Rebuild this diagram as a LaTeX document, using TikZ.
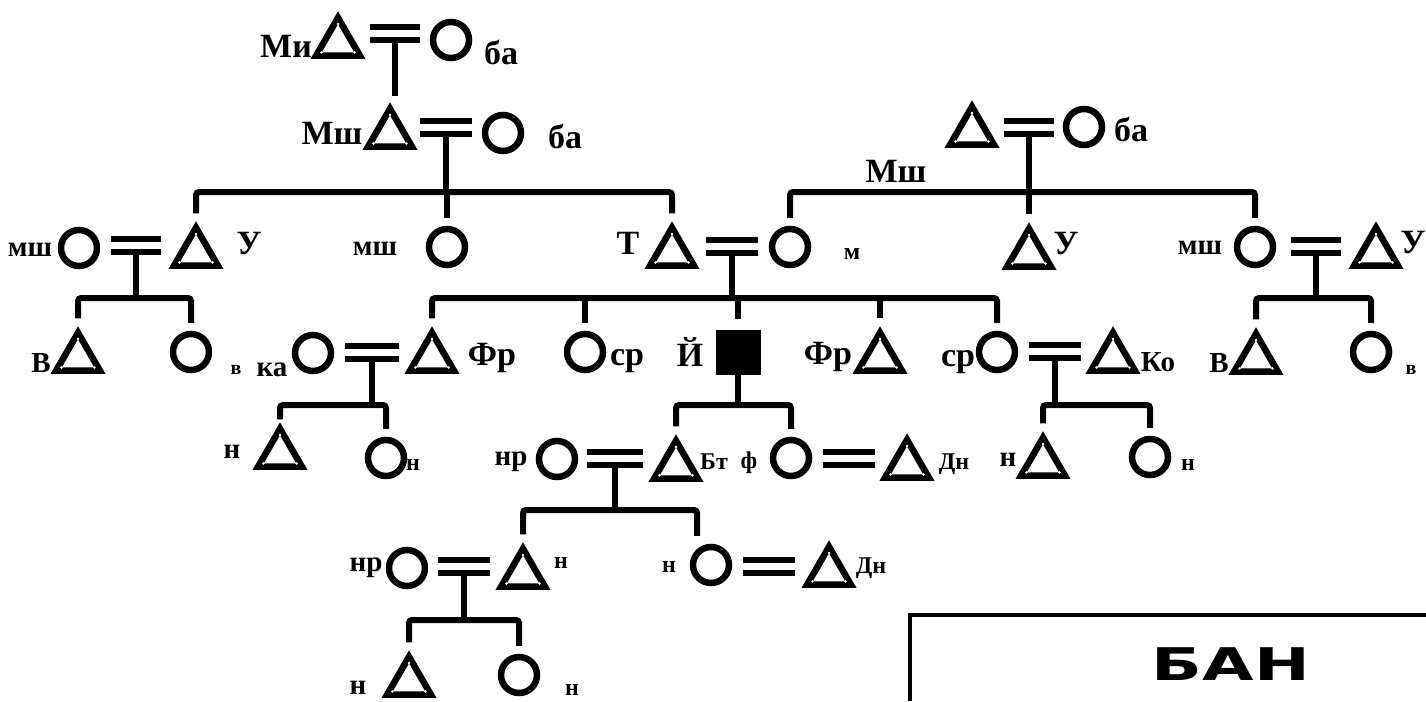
\documentclass[tikz,border=0pt]{standalone}
\usepackage{fontspec}
\newfontfamily\labfont{Liberation Serif}
\newfontfamily\banfont{DejaVu Sans}
\usetikzlibrary{shapes.geometric,calc}
\tikzset{
  ln/.style={line width=6pt},
  rc/.style={rounded corners=3pt},
  male/.style={regular polygon, regular polygon sides=3, draw, line width=6.5pt, minimum size=50.5pt, inner sep=0pt, yshift=-7pt},
  female/.style={circle, draw, line width=6.5pt, minimum size=36pt, inner sep=0pt},
  aff/.style={rectangle, fill=black, minimum size=45pt, inner sep=0pt},
  lab/.style={font=\labfont\bfseries\fontsize{34}{34}\selectfont, inner sep=0pt},
  mlab/.style={font=\labfont\bfseries\fontsize{29}{29}\selectfont, inner sep=0pt},
  slab/.style={font=\labfont\bfseries\fontsize{24}{24}\selectfont, inner sep=0pt},
  xlab/.style={font=\labfont\bfseries\fontsize{20}{20}\selectfont, inner sep=0pt},
  banst/.style={font=\banfont\bfseries\fontsize{45}{45}\selectfont, inner sep=0pt},
  speck/.style={fill=white},
}
\newcommand\mrg[3]{%
  \coordinate (#1) at (#2);
  \draw[ln] ([shift={(-#3,-6.5)}]#1) -- ([shift={(#3,-6.5)}]#1);
  \draw[ln] ([shift={(-#3,6.5)}]#1) -- ([shift={(#3,6.5)}]#1);
}
\begin{document}
\begin{tikzpicture}[x=1pt,y=-1pt]
\useasboundingbox (0,0) rectangle (1426,701);
% ---------- row 0
\node[male] (A0) at (338,36) {};
\node[female] (B0) at (451,40) {};
\mrg{m0}{395,34}{25}
\node[lab] (tA0) at (286,46) {Ми};
\node[lab] (tB0) at (501,52) {ба};
% ---------- row 1
\node[male] (A1) at (390,127) {};
\node[female] (B1) at (503,133) {};
\mrg{m1}{446,127}{26}
\node[lab] (tA1) at (332,133) {Мш};
\node[lab] (tB1) at (565,136) {ба};
\node[male] (A2) at (972,125) {};
\node[female] (B2) at (1084,127) {};
\mrg{m2}{1029,127}{25}
\node[lab] (tB2) at (1131,129) {ба};
\node[lab] (tMs) at (896,171) {Мш};
% ---------- row 2
\node[female] (W1) at (79,248) {};
\node[male] (C1) at (196,246) {};
\mrg{m3}{136,245}{25}
\node[female] (C2) at (447,247) {};
\node[male] (C3) at (672,246) {};
\node[female] (D1) at (790,247) {};
\mrg{m4}{732,246}{26}
\node[male] (D2) at (1029,247) {};
\node[female] (D3) at (1255,247) {};
\node[male] (H1) at (1376,246) {};
\mrg{m5}{1316,246}{25}
\node[mlab] (t21) at (30,250) {мш};
\node[lab] (t22) at (249,244) {У};
\node[mlab] (t23) at (375,249) {мш};
\node[lab] (t24) at (628,243) {Т};
\node[slab] (t25) at (852,254) {м};
\node[lab] (t26) at (1066,244) {У};
\node[mlab] (t27) at (1200,248) {мш};
\node[lab] (t28) at (1413,243) {У};
% ---------- row 3
\node[male] (E1) at (78,351) {};
\node[female] (E2) at (191,352) {};
\node[female] (W2) at (313,353) {};
\node[male] (F1) at (432,351) {};
\mrg{m6}{372,352}{27}
\node[female] (F2) at (585,352) {};
\node[aff] (F3) at (738,352) {};
\node[male] (F4) at (880,351) {};
\node[female] (F5) at (997,352) {};
\node[male] (H2) at (1113,351) {};
\mrg{m7}{1055,351}{26}
\node[male] (G1) at (1256,352) {};
\node[female] (G2) at (1371,352) {};
\node[mlab] (t31) at (41,363) {В};
\node[xlab] (t32) at (236,370) {в};
\node[mlab] (t33) at (272,370) {ка};
\node[lab] (t34) at (492,358) {Фр};
\node[lab] (t35) at (627,361) {ср};
\node[lab] (t36) at (690,352) {Й};
\node[lab] (t37) at (828,357) {Фр};
\node[lab] (t38) at (958,362) {ср};
\node[mlab] (t39) at (1158,362) {Ко};
\node[mlab] (t3a) at (1219,363) {В};
\node[xlab] (t3b) at (1411,370) {в};
% ---------- row 4
\node[male] (I1) at (280,447) {};
\node[female] (I2) at (386,458) {};
\node[female] (W3) at (557,459) {};
\node[male] (J1) at (676,459) {};
\mrg{m8}{615,458}{28}
\node[female] (J2) at (791,458) {};
\node[male] (H3) at (907,458) {};
\mrg{m9}{849,458}{26}
\node[male] (K1) at (1043,456) {};
\node[female] (K2) at (1150,457) {};
\node[mlab] (t41) at (232,452) {н};
\node[slab] (t42) at (413,465) {н};
\node[mlab] (t43) at (511,462) {нр};
\node[slab] (t44) at (714,462) {Бт};
\node[slab] (t45) at (749,463) {ф};
\node[slab] (t46) at (954,464) {Дн};
\node[mlab] (t47) at (1008,460) {н};
\node[slab] (t48) at (1188,465) {н};
% ---------- row 5
\node[female] (W4) at (407,568) {};
\node[male] (L1) at (523,567) {};
\mrg{m10}{464,566}{26}
\node[female] (L2) at (711,565) {};
\node[male] (H4) at (829,565) {};
\mrg{m11}{769,566}{26}
\node[mlab] (t51) at (366,568) {нр};
\node[slab] (t52) at (561,563) {н};
\node[slab] (t53) at (669,567) {н};
\node[slab] (t54) at (871,568) {Дн};
% ---------- row 6
\node[male] (N1) at (409,675) {};
\node[female] (N2) at (519,675) {};
\node[mlab] (t61) at (358,688) {н};
\node[slab] (t62) at (572,690) {н};
% ---------- white specks in the triangle corners
\foreach \t in {A0,A1,A2,C1,C3,D2,H1,E1,F1,F4,H2,G1,I1,J1,H3,K1,L1,H4,N1}{
  \foreach \c in {1,2,3}{
    \fill[speck] ($(\t.center)!19pt!(\t.corner \c)$) circle (1.4pt);
  }
}
% ---------- descent lines
\coordinate (s1) at (446,192);
\coordinate (s2) at (1029,192);
\coordinate (s3) at (136,298);
\coordinate (s4) at (732,298);
\coordinate (s5) at (1316,298);
\coordinate (s6) at (372,405);
\coordinate (s7) at (738,405);
\coordinate (s8) at (1055,405);
\coordinate (s9) at (615,510);
\coordinate (s10) at (464,620);
\draw[ln, shorten >=6pt] ([yshift=-6.5pt]m0) -- (m0 |- A1.north);
\draw[ln] ([yshift=-6.5pt]m1) -- (s1);
\draw[ln, rc] ([yshift=8pt]C1.north) |- (s1) -| ([yshift=8pt]C3.north);
\draw[ln] ([yshift=8pt]C2.north) -- (C2.north |- s1);
\draw[ln] ([yshift=-6.5pt]m2) -- ([yshift=8pt]D2.north);
\draw[ln, rc] ([yshift=8pt]D1.north) |- (s2) -| ([yshift=8pt]D3.north);
\draw[ln] ([yshift=-6.5pt]m3) -- (s3);
\draw[ln, rc] ([yshift=8pt]E1.north) |- (s3) -| ([yshift=8pt]E2.north);
\draw[ln] ([yshift=-6.5pt]m4) -- (s4);
\draw[ln, rc] ([yshift=8pt]F1.north) |- (s4) -| ([yshift=8pt]F5.north);
\draw[ln] ([yshift=8pt]F2.north) -- (F2.north |- s4);
\draw[ln] ([yshift=10pt]F3.north) -- (F3.north |- s4);
\draw[ln] ([yshift=8pt]F4.north) -- (F4.north |- s4);
\draw[ln] ([yshift=-6.5pt]m5) -- (s5);
\draw[ln, rc] ([yshift=8pt]G1.north) |- (s5) -| ([yshift=8pt]G2.north);
\draw[ln] ([yshift=-6.5pt]m6) -- (s6);
\draw[ln, rc] ([yshift=3pt]I1.north) |- (s6) -| ([yshift=8pt]I2.north);
\draw[ln] (F3.south) -- (s7);
\draw[ln, rc] ([yshift=8pt]J1.north) |- (s7) -| ([yshift=8pt]J2.north);
\draw[ln] ([yshift=-6.5pt]m7) -- (s8);
\draw[ln, rc] ([yshift=8pt]K1.north) |- (s8) -| ([yshift=8pt]K2.north);
\draw[ln] ([yshift=-6.5pt]m8) -- (s9);
\draw[ln, rc] ([yshift=8pt]L1.north) |- (s9) -| ([xshift=-14pt,yshift=8pt]L2.north);
\draw[ln] ([yshift=-6.5pt]m10) -- (s10);
\draw[ln, rc] ([yshift=8pt]N1.north) |- (s10) -| ([yshift=8pt]N2.north);
% ---------- title box
\coordinate (bx1) at (1426,615);
\coordinate (bx2) at (910,615);
\coordinate (bx3) at (910,701);
\draw[line width=4.5pt] (bx1) -- (bx2) -- (bx3);
\node[banst] (ban) at (1231,664) {\scalebox{1.48}[1]{БАН}};
\end{tikzpicture}
\end{document}
